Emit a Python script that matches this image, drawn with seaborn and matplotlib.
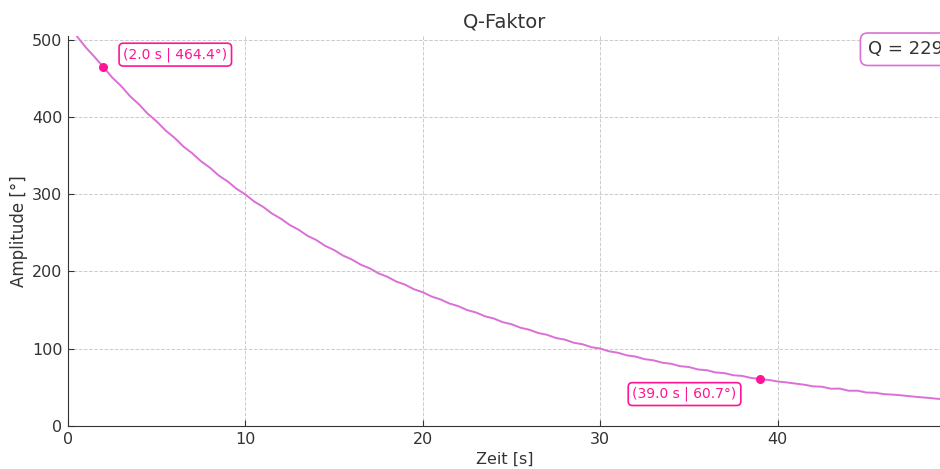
import numpy as np
import pandas as pd
import matplotlib
matplotlib.use('Agg')
import matplotlib.pyplot as plt
import seaborn as sns

# Zeit [s] and Amplitude [°] (0.5 s steps)
zeit = [0.5, 1.0, 1.5, 2.0, 2.5, 3.0, 3.5, 4.0, 4.5, 5.0,
        5.5, 6.0, 6.5, 7.0, 7.5, 8.0, 8.5, 9.0, 9.5, 10.0,
        10.5, 11.0, 11.5, 12.0, 12.5, 13.0, 13.5, 14.0, 14.5, 15.0,
        15.5, 16.0, 16.5, 17.0, 17.5, 18.0, 18.5, 19.0, 19.5, 20.0,
        20.5, 21.0, 21.5, 22.0, 22.5, 23.0, 23.5, 24.0, 24.5, 25.0,
        25.5, 26.0, 26.5, 27.0, 27.5, 28.0, 28.5, 29.0, 29.5, 30.0,
        30.5, 31.0, 31.5, 32.0, 32.5, 33.0, 33.5, 34.0, 34.5, 35.0,
        35.5, 36.0, 36.5, 37.0, 37.5, 38.0, 38.5, 39.0, 39.5, 40.0,
        40.5, 41.0, 41.5, 42.0, 42.5, 43.0, 43.5, 44.0, 44.5, 45.0,
        45.5, 46.0, 46.5, 47.0, 47.5, 48.0, 48.5, 49.0, 49.5]
amplitude = [504.5, 490.1, 477.6, 464.4, 450.8, 439.9, 426.8, 416.3, 404.0, 394.2,
             382.5, 373.1, 361.8, 353.0, 342.6, 334.3, 324.1, 316.5, 307.0, 299.6,
             290.4, 283.6, 274.9, 268.3, 260.1, 254.0, 246.2, 240.6, 233.1, 227.7,
             220.6, 215.5, 208.8, 204.1, 197.6, 193.1, 187.0, 182.9, 177.0, 173.1,
             167.5, 163.8, 158.5, 155.1, 150.0, 146.9, 142.0, 139.1, 134.4, 131.7,
             127.2, 124.6, 120.4, 118.0, 113.9, 111.8, 107.8, 105.8, 102.0, 100.2,
             96.6, 94.8, 91.4, 89.8, 86.5, 85.0, 81.9, 80.5, 77.4, 76.3,
             73.2, 72.2, 69.3, 68.4, 65.7, 64.8, 62.2, 60.7, 59.6, 57.6,
             56.4, 54.9, 53.4, 51.3, 50.8, 48.2, 48.4, 45.6, 45.7, 43.3,
             43.0, 41.2, 40.6, 39.6, 38.4, 37.3, 36.4, 35.2, 34.8]

punkte_t = [2.0, 39.0]
punkte_a = [464.4, 60.7]
q_wert = 229

df = pd.DataFrame({'Zeit': zeit, 'Amplitude': amplitude})

sns.set_style('ticks')
plt.rcParams['font.family'] = ['DejaVu Sans']

fig = plt.figure(figsize=(9.4, 4.69), dpi=100)
ax = fig.add_axes([0.0723, 0.0917, 0.93, 0.832])

sns.lineplot(data=df, x='Zeit', y='Amplitude', ax=ax, color='#DA70D6', linewidth=1.4)
ax.scatter(punkte_t, punkte_a, color='#FF1493', s=30, zorder=5)

box = dict(boxstyle='round,pad=0.3', facecolor='white', edgecolor='#FF1493', linewidth=1.2)
ax.annotate(f'({punkte_t[0]:.1f} s | {punkte_a[0]:.1f}°)', xy=(punkte_t[0], punkte_a[0]),
            xytext=(6.05, 480.6), ha='center', va='center', fontsize=10,
            color='#FF1493', bbox=box)
ax.annotate(f'({punkte_t[1]:.1f} s | {punkte_a[1]:.1f}°)', xy=(punkte_t[1], punkte_a[1]),
            xytext=(34.75, 41.3), ha='center', va='center', fontsize=10,
            color='#FF1493', bbox=box)

fig.text(0.923, 0.895, f'Q = {q_wert}', ha='left', va='center', fontsize=13, color='#333333',
         bbox=dict(boxstyle='round,pad=0.4', facecolor='white', edgecolor='#DA70D6', linewidth=1.2))

ax.set_xlim(0, 49.27)
ax.set_ylim(0, 505)
ax.set_xticks([0, 10, 20, 30, 40])
ax.set_yticks([0, 100, 200, 300, 400, 500])
ax.grid(True, linestyle='--', color='#cccccc', linewidth=0.7)
ax.set_title('Q-Faktor', fontsize=14, color='#333333')
ax.set_xlabel('Zeit [s]', fontsize=11.5, color='#333333', labelpad=4)
ax.set_ylabel('Amplitude [°]', fontsize=12, color='#333333', labelpad=3)
ax.tick_params(labelsize=11.5, colors='#333333', direction='in', length=4, pad=4)
for s in ['top', 'right']:
    ax.spines[s].set_visible(False)
for s in ['left', 'bottom']:
    ax.spines[s].set_color('#333333')

fig.savefig('out.png', dpi=100)
